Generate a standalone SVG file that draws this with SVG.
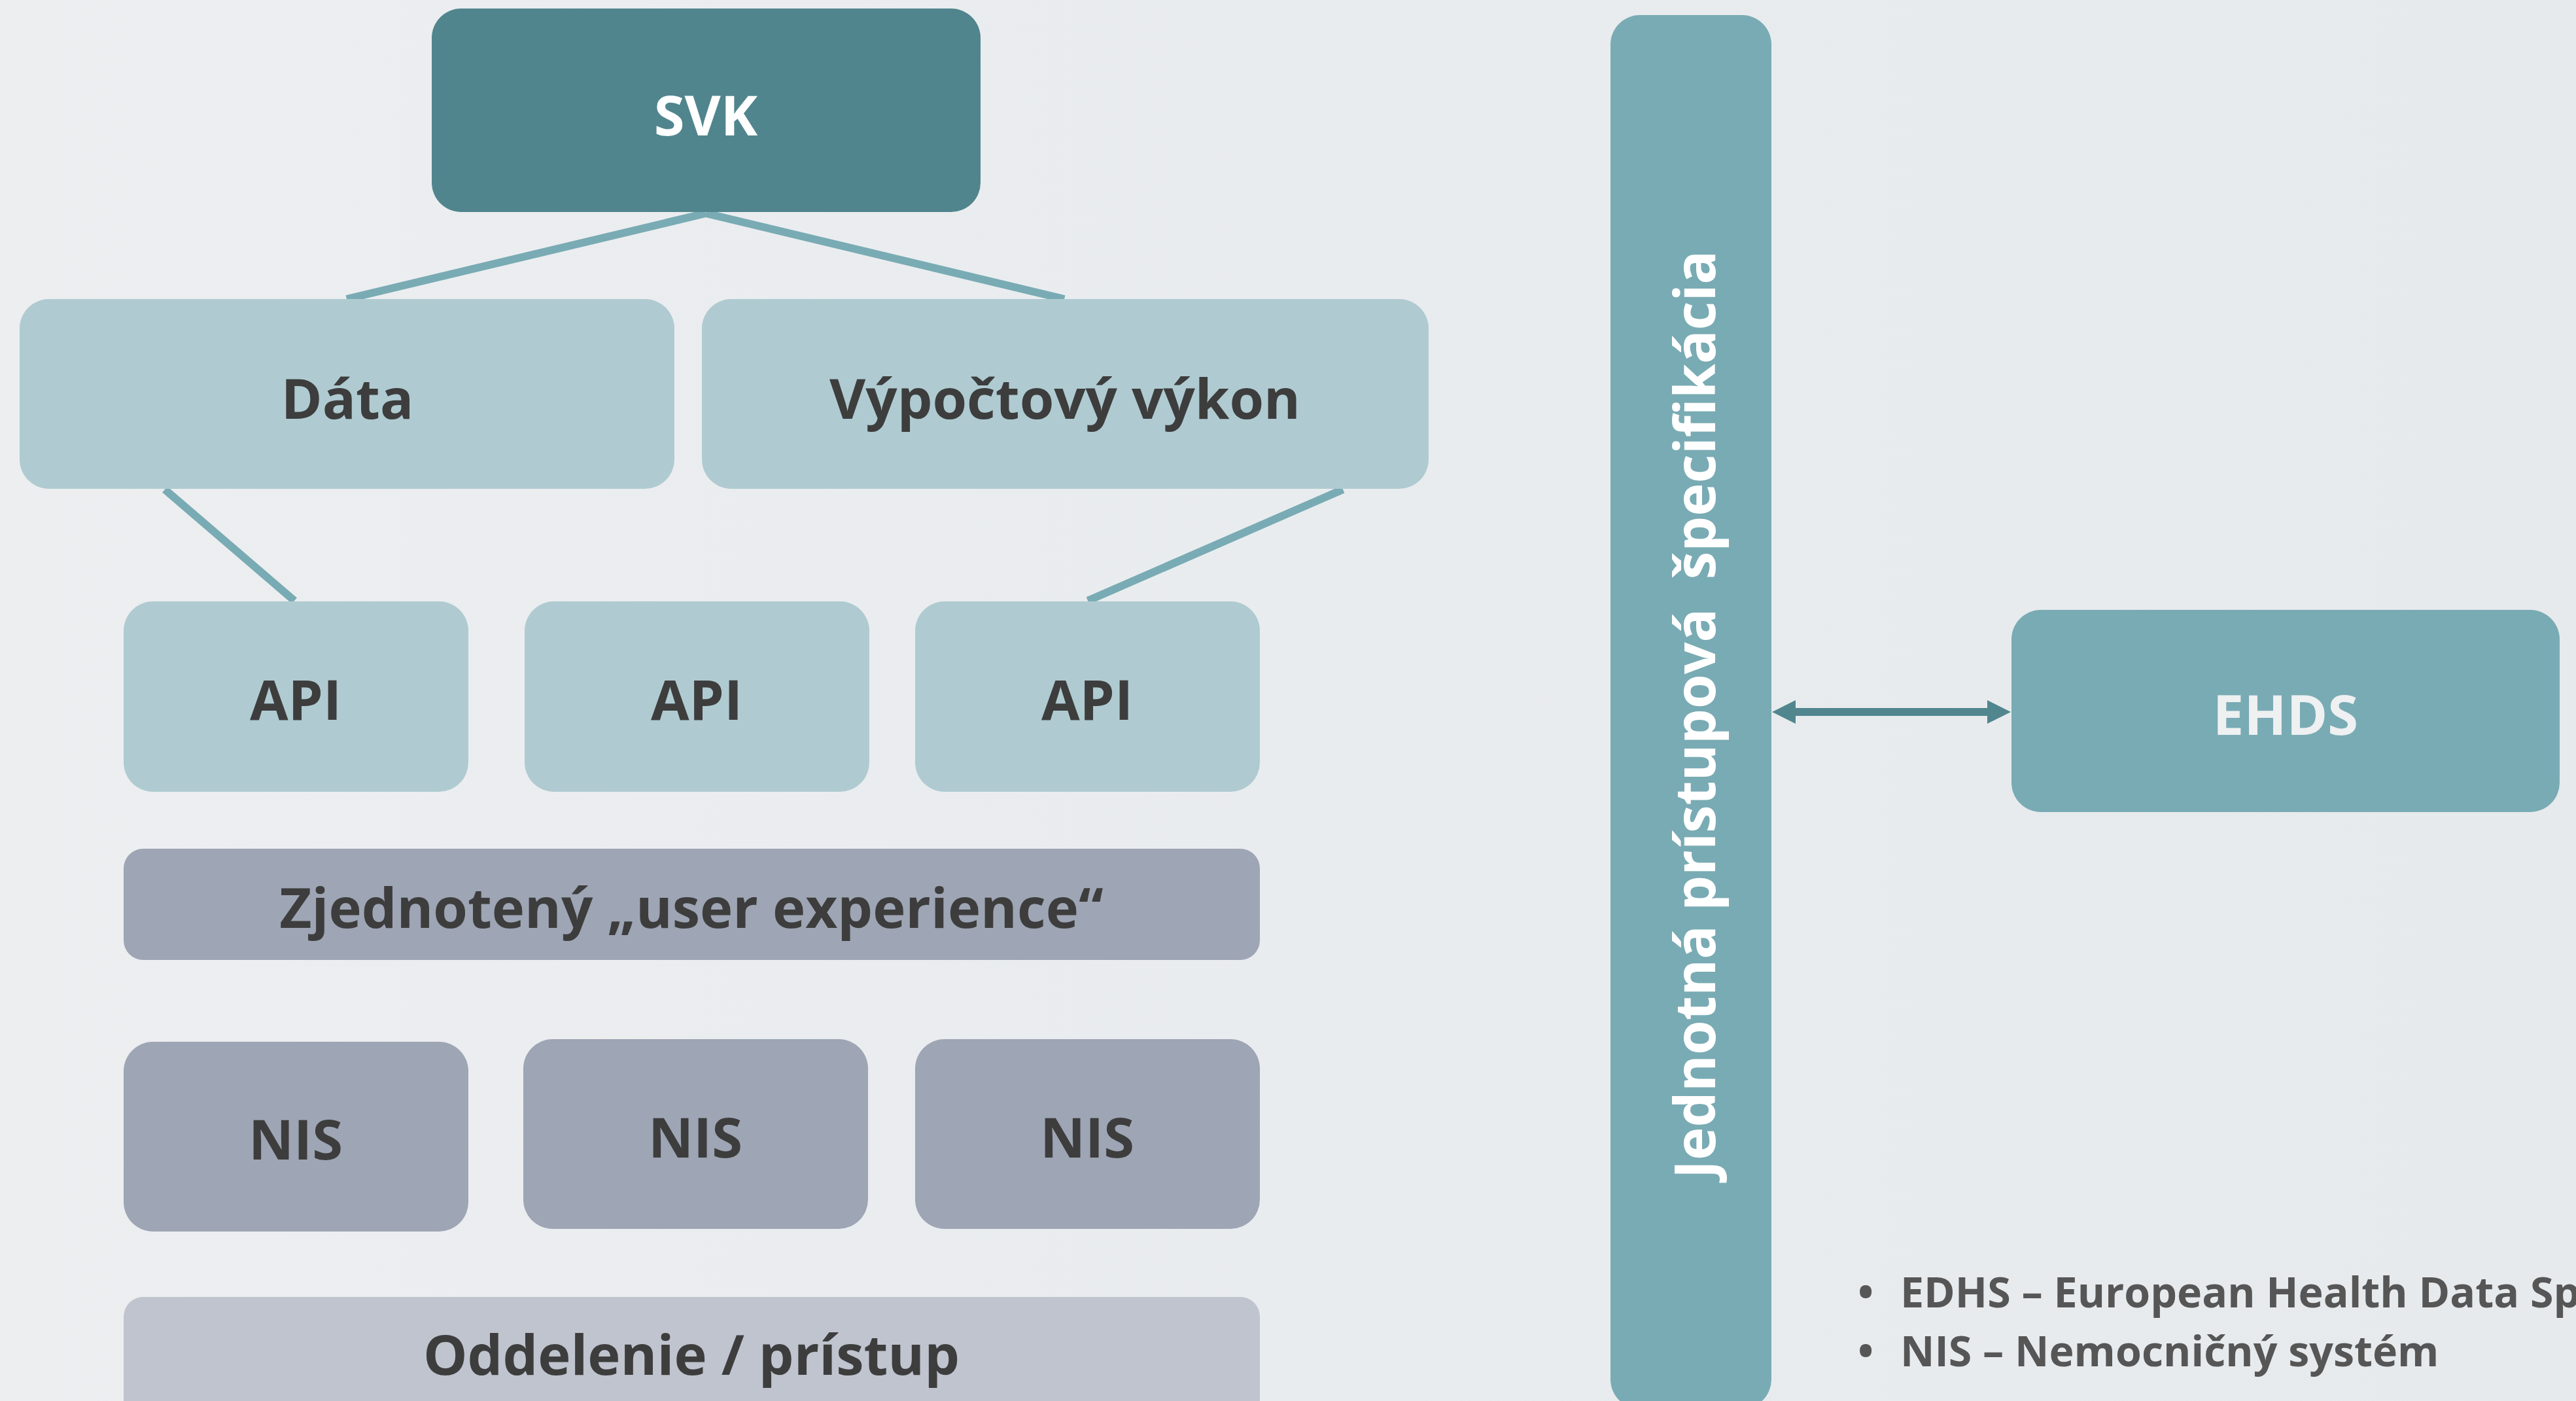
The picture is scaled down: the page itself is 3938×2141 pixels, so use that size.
<svg xmlns="http://www.w3.org/2000/svg" width="3938" height="2141" viewBox="0 0 3938 2141">
<style>
.lbl{font-family:"Open Sans","Noto Sans","Liberation Sans",sans-serif;font-weight:700;font-size:85px;text-anchor:middle;fill:#3D3D3D}
.wht{fill:#FFFFFF}
.light{fill:#AFCBD1}
.gray{fill:#9EA5B4}
.pale{fill:#BFC4CE}
.teal{fill:#79ABB4}
.conn{stroke:#79ABB4;stroke-width:12;fill:none}
.note{font-family:"Open Sans","Noto Sans","Liberation Sans",sans-serif;font-weight:700;font-size:64.5px;fill:#565656}
</style>
<defs>
<linearGradient id="bg" x1="0" y1="0" x2="1" y2="0">
<stop offset="0" stop-color="#ECEEF0"/>
<stop offset="1" stop-color="#E6EAED"/>
</linearGradient>
<marker id="ah" viewBox="0 0 36 36" refX="18" refY="18" markerWidth="36" markerHeight="36" markerUnits="userSpaceOnUse" orient="auto-start-reverse">
<path d="M0,0 L36,18 L0,36 Z" fill="#51868F"/>
</marker>
</defs>
<rect x="0" y="0" width="3938" height="2141" fill="url(#bg)"/>
<g id="connectors">
<path class="conn" d="M1079,326 L530,457"/>
<path class="conn" d="M1079,326 L1627,457"/>
<path class="conn" d="M252,748 L450,918"/>
<path class="conn" d="M2053,748 L1663,918"/>
<path d="M2727,1088 L3056,1088" stroke="#51868F" stroke-width="12" fill="none" marker-start="url(#ah)" marker-end="url(#ah)"/>
</g>
<g id="svk">
<rect x="660" y="13" width="839" height="311" rx="45" fill="#51858E"/>
<text class="lbl wht" x="1079" y="207">SVK</text>
</g>
<g id="data">
<rect class="light" x="30" y="457" width="1001" height="290" rx="45"/>
<text class="lbl" x="531" y="640">Dáta</text>
</g>
<g id="vykon">
<rect class="light" x="1073" y="457" width="1111" height="290" rx="45"/>
<text class="lbl" x="1628" y="640">Výpočtový výkon</text>
</g>
<g id="api1">
<rect class="light" x="189" y="919" width="527" height="291" rx="45"/>
<text class="lbl" x="452" y="1100">API</text>
</g>
<g id="api2">
<rect class="light" x="802" y="919" width="527" height="291" rx="45"/>
<text class="lbl" x="1065" y="1100">API</text>
</g>
<g id="api3">
<rect class="light" x="1399" y="919" width="527" height="291" rx="45"/>
<text class="lbl" x="1662" y="1100">API</text>
</g>
<g id="ux">
<rect class="gray" x="189" y="1297" width="1737" height="170" rx="30"/>
<text class="lbl" x="1057" y="1418">Zjednotený „user experience“</text>
</g>
<g id="nis1">
<rect class="gray" x="189" y="1592" width="527" height="290" rx="45"/>
<text class="lbl" x="452" y="1772">NIS</text>
</g>
<g id="nis2">
<rect class="gray" x="800" y="1588" width="527" height="290" rx="45"/>
<text class="lbl" x="1063" y="1769">NIS</text>
</g>
<g id="nis3">
<rect class="gray" x="1399" y="1588" width="527" height="290" rx="45"/>
<text class="lbl" x="1662" y="1769">NIS</text>
</g>
<g id="oddelenie">
<rect class="pale" x="189" y="1982" width="1737" height="200" rx="30"/>
<text class="lbl" x="1057" y="2101">Oddelenie / prístup</text>
</g>
<g id="spec">
<rect class="teal" x="2462" y="23" width="246" height="2130" rx="45"/>
<text class="lbl wht" style="font-size:85.5px" transform="translate(2622,1092) rotate(-90)" x="0" y="0" xml:space="preserve">Jednotná prístupová  špecifikácia</text>
</g>
<g id="ehds">
<rect class="teal" x="3075" y="932" width="838" height="309" rx="45"/>
<text class="lbl" style="fill:#EEF0F1" x="3494" y="1123">EHDS</text>
</g>
<g id="notes">
<text class="note" x="2840" y="1998">•</text>
<text class="note" x="2905" y="1998">EDHS – European Health Data Space</text>
<text class="note" x="2840" y="2088">•</text>
<text class="note" x="2905" y="2088">NIS – Nemocničný systém</text>
</g>
</svg>
